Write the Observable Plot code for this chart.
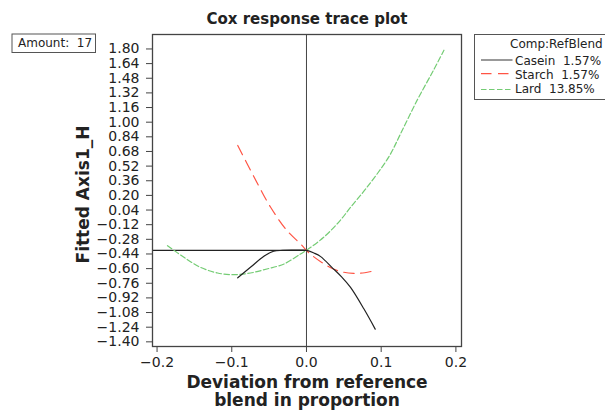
<!DOCTYPE html>
<html><head><meta charset="utf-8">
<script src="https://cdn.jsdelivr.net/npm/d3@7"></script>
<script src="https://cdn.jsdelivr.net/npm/@observablehq/plot@0.6"></script>
<style>
body{margin:0;background:#fff;}
#wrap{position:relative;width:605px;height:411px;overflow:hidden;}
</style></head><body><div id="wrap"></div>
<script>
// ---- data ----
const caseinX = [-0.092, -0.075, -0.057, -0.044, -0.032, -0.020, -0.010, 0.000, 0.010, 0.019, 0.034, 0.047, 0.059, 0.077, 0.092];
const caseinY = [-0.700, -0.586, -0.465, -0.410, -0.401, -0.398, -0.398, -0.400, -0.430, -0.469, -0.586, -0.690, -0.805, -1.042, -1.261];
const starchX = [-0.092, -0.070, -0.048, -0.026, -0.008, 0.000, 0.005, 0.020, 0.036, 0.050, 0.063, 0.078, 0.092];
const starchY = [0.746, 0.399, 0.070, -0.185, -0.330, -0.400, -0.440, -0.530, -0.604, -0.640, -0.652, -0.645, -0.620];
const lardX = [-0.186, -0.164, -0.142, -0.119, -0.097, -0.075, -0.053, -0.030, -0.008, 0.000, 0.023, 0.045, 0.059, 0.081, 0.110, 0.126, 0.148, 0.170, 0.184];
const lardY = [-0.349, -0.477, -0.586, -0.648, -0.666, -0.648, -0.604, -0.549, -0.440, -0.400, -0.258, -0.075, 0.070, 0.289, 0.618, 0.874, 1.238, 1.567, 1.786];
const refValue = -0.40;
const seriesNames = ["Casein  1.57%", "Starch  1.57%", "Lard  13.85%"];
const yTicks = [1.80, 1.64, 1.48, 1.32, 1.16, 1.00, 0.84, 0.68, 0.52, 0.36, 0.20, 0.04, -0.12, -0.28, -0.44, -0.60, -0.76, -0.92, -1.08, -1.24, -1.40];
const xTicks = [-0.2, -0.1, 0.0, 0.1, 0.2];
const xDomain = [-0.2061, 0.2075];
const yDomain = [-1.451, 1.958];
const title = "Cox response trace plot";
const xLabel = "Deviation from reference\nblend in proportion";
const yLabel = "Fitted Axis1_H";
const amountText = "Amount:  17";
const legendTitle = "Comp:RefBlend";

const colors = ["#222222", "#ff5444", "#74cc74"];
const legendColors = ["#555555", "#ff5444", "#74cc74"];
const dashes = [null, "10.5,6.5", "5.5,2.5"];
const font = '"DejaVu Sans", Verdana, sans-serif';

const toRows = (xs, ys) => xs.map((x, i) => ({x, y: ys[i]}));
const casein = toRows(caseinX, caseinY);
const starch = toRows(starchX, starchY);
const lard = toRows(lardX, lardY);

const plot = Plot.plot({
  width: 605, height: 411,
  marginLeft: 152, marginRight: 144, marginTop: 34, marginBottom: 65,
  style: {fontFamily: font, fontSize: "14px", color: "#222", background: "white"},
  x: {domain: xDomain, label: null},
  y: {domain: yDomain, label: null},
  marks: [
    Plot.axisX({ticks: xTicks, tickFormat: d3.format(".1f"), label: null, tickSize: 6, tickPadding: 4.5, stroke: "#444", fontSize: 14}),
    Plot.axisY({ticks: yTicks, tickFormat: d3.format(".2f"), label: null, tickSize: 6, tickPadding: 7, stroke: "#444", fontSize: 14}),
    Plot.ruleX([0], {stroke: "#444", strokeWidth: 1}),
    Plot.ruleY([refValue], {x1: xDomain[0], x2: 0, stroke: "#222", strokeWidth: 1.3}),
    Plot.line(lard, {x: "x", y: "y", stroke: colors[2], strokeWidth: 1.2, strokeDasharray: dashes[2], curve: "catmull-rom"}),
    Plot.line(starch, {x: "x", y: "y", stroke: colors[1], strokeWidth: 1.2, strokeDasharray: dashes[1], curve: "catmull-rom"}),
    Plot.line(casein, {x: "x", y: "y", stroke: colors[0], strokeWidth: 1.2, curve: "catmull-rom"}),
    Plot.frame({stroke: "#444", strokeWidth: 1.3}),
    Plot.text([title], {frameAnchor: "top", dy: -15.5, text: d => d, fontWeight: "bold", fontSize: 15, fill: "#222", lineAnchor: "middle"}),
    Plot.text([xLabel], {frameAnchor: "bottom", dy: 45, text: d => d, fontWeight: "bold", fontSize: 17, lineHeight: 18 / 17, lineAnchor: "middle", fill: "#222"})
  ]
});
const wrap = document.getElementById("wrap");
wrap.appendChild(plot);

const svg = d3.select(plot);
const g = svg.append("g").attr("font-family", font).attr("fill", "#222").attr("text-anchor", "start");

// y-axis label (rotated)
g.append("text")
  .attr("transform", "translate(89,194.5) rotate(-90)")
  .attr("text-anchor", "middle")
  .attr("font-weight", "bold").attr("font-size", 17)
  .text(yLabel);

// Amount box
g.append("rect").attr("x", 12).attr("y", 34).attr("width", 83.5).attr("height", 18.5)
  .attr("fill", "none").attr("stroke", "#555").attr("stroke-width", 1);
g.append("text").attr("x", 18).attr("y", 47.3).attr("font-size", 12).attr("text-anchor", "start")
  .style("white-space", "pre").text(amountText);

// Legend box
g.append("rect").attr("x", 474.5).attr("y", 34.5).attr("width", 140).attr("height", 65)
  .attr("fill", "none").attr("stroke", "#555").attr("stroke-width", 1);
g.append("text").attr("x", 510).attr("y", 48.3).attr("font-size", 12).attr("text-anchor", "start").text(legendTitle);
const baselines = [65, 79, 93.3];
const lineYs = [60, 73.7, 89.5];
seriesNames.forEach((name, i) => {
  g.append("line").attr("x1", 481).attr("x2", 512.5).attr("y1", lineYs[i]).attr("y2", lineYs[i])
    .attr("stroke", legendColors[i]).attr("stroke-width", 1.2)
    .attr("stroke-dasharray", dashes[i]);
  g.append("text").attr("x", 515).attr("y", baselines[i]).attr("font-size", 12).attr("text-anchor", "start")
    .style("white-space", "pre").text(name);
});
</script>
</body></html>
